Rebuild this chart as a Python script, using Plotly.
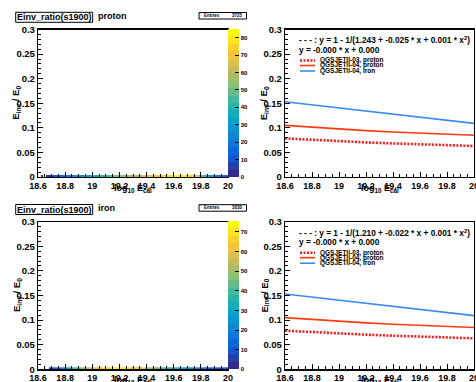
import plotly.graph_objects as go

W, H = 476, 382
def px(x): return x / W
def py(y): return 1 - y / H

FONT = "Liberation Sans"

# ---------------- data ----------------
bin_lo, bin_hi, n_bins = 18.6, 20.0, 70
ratio_bin_edges = [0.0, 0.004]

proton_counts = [0, 1, 0, 2, 1, 6, 9, 12, 14, 16,
                 19, 21, 20, 24, 25, 27, 26, 30, 32, 33,
                 36, 35, 39, 41, 42, 44, 46, 45, 48, 50,
                 51, 53, 54, 57, 58, 60, 59, 63, 64, 65,
                 66, 68, 69, 71, 72, 74, 75, 77, 78, 80,
                 81, 83, 82, 80, 79, 77, 74, 70, 66, 58,
                 50, 42, 36, 30, 25, 21, 18, 15, 13, 11]
iron_counts = [0, 0, 0, 0, 3, 8, 12, 15, 18, 22,
               26, 30, 34, 38, 41, 44, 47, 50, 53, 56,
               59, 62, 64, 66, 68, 70, 71, 72, 71, 72,
               70, 71, 69, 68, 66, 64, 62, 59, 57, 54,
               52, 50, 47, 45, 43, 41, 39, 37, 35, 33,
               31, 30, 28, 27, 25, 24, 22, 21, 19, 18,
               17, 16, 15, 14, 13, 12, 11, 10, 9, 8]
entries_proton = 3725
entries_iron = 3030
zmax_proton = 85
zmax_iron = 75.4

x_model = [18.6, 18.8, 19.0, 19.2, 19.4, 19.6, 19.8, 20.0]
qgs03_proton = [0.0785, 0.0755, 0.0728, 0.0704, 0.0683, 0.0664, 0.0646, 0.0630]
qgs04_proton = [0.1050, 0.1010, 0.0975, 0.0943, 0.0915, 0.0891, 0.0870, 0.0850]
qgs04_iron = [0.1530, 0.1467, 0.1404, 0.1341, 0.1279, 0.1216, 0.1153, 0.1090]

x_tickvals = [18.6, 18.8, 19.0, 19.2, 19.4, 19.6, 19.8, 20.0]
x_ticktext = ["18.6", "18.8", "19", "19.2", "19.4", "19.6", "19.8", "20"]
y_tickvals = [0, 0.05, 0.1, 0.15, 0.2, 0.25, 0.3]
y_ticktext = ["0", "0.05", "0.1", "0.15", "0.2", "0.25", "0.3"]

fit_proton = "- - - : y = 1 - 1/(1.243 + -0.025 * x + 0.001 * x<sup>2</sup>)"
fit_iron = "- - - : y = 1 - 1/(1.210 + -0.022 * x + 0.001 * x<sup>2</sup>)"
lin_text = "y = -0.000 * x + 0.000"
legend_names = ["QGSJETII-03, proton", "QGSJETII-04, proton", "QGSJETII-04, iron"]

# ---------------- colours ----------------
bird_r = [0.2082, 0.0592, 0.0780, 0.0232, 0.1802, 0.5301, 0.8186, 0.9956, 0.9764]
bird_g = [0.1664, 0.3599, 0.5041, 0.6419, 0.7178, 0.7492, 0.7328, 0.7862, 0.9832]
bird_b = [0.5293, 0.8684, 0.8385, 0.7914, 0.6425, 0.4662, 0.3499, 0.1968, 0.0539]

def bird(t):
    n = len(bird_r) - 1
    f = t * n
    i = min(int(f), n - 1)
    u = f - i
    c = [(1 - u) * a[i] + u * a[i + 1] for a in (bird_r, bird_g, bird_b)]
    return "rgb(%d,%d,%d)" % tuple(round(v * 255) for v in c)

NBAND = 20
colorscale = []
for k in range(NBAND):
    c = bird(k / (NBAND - 1))
    colorscale.append([k / NBAND, c])
    colorscale.append([(k + 1) / NBAND, c])

COL_IRON = "#3b8cf2"
COL_P04 = "#ff3a10"
COL_P03 = "#ff1a1a"
DOT = "2px,1.5px"

# ---------------- geometry ----------------
PL = (38, 228)
PR = (285, 474)
PT = (29.5, 177)
PB = (221.7, 369.3)

bin_w = (bin_hi - bin_lo) / n_bins
x_edges = [bin_lo + i * bin_w for i in range(n_bins + 1)]

def zrow(counts):
    return [[(c if c > 0 else None) for c in counts]]

fig = go.Figure()

fig.add_trace(go.Heatmap(x=x_edges, y=ratio_bin_edges, z=zrow(proton_counts),
                         coloraxis="coloraxis", xaxis="x", yaxis="y",
                         hoverinfo="skip"))
fig.add_trace(go.Heatmap(x=x_edges, y=ratio_bin_edges, z=zrow(iron_counts),
                         coloraxis="coloraxis2", xaxis="x3", yaxis="y3",
                         hoverinfo="skip"))

for xa, ya in (("x2", "y2"), ("x4", "y4")):
    fig.add_trace(go.Scatter(x=x_model, y=qgs03_proton, mode="lines", xaxis=xa, yaxis=ya,
                             line=dict(color=COL_P03, width=2.6, dash=DOT), showlegend=False))
    fig.add_trace(go.Scatter(x=x_model, y=qgs04_proton, mode="lines", xaxis=xa, yaxis=ya,
                             line=dict(color=COL_P04, width=1.6), showlegend=False))
    fig.add_trace(go.Scatter(x=x_model, y=qgs04_iron, mode="lines", xaxis=xa, yaxis=ya,
                             line=dict(color=COL_IRON, width=1.6), showlegend=False))

def xax(dom, anchor):
    return dict(domain=[px(dom[0]), px(dom[1])], range=[bin_lo, bin_hi], anchor=anchor,
                tickvals=x_tickvals, ticktext=x_ticktext, automargin=False,
                ticklabeloverflow="allow",
                showline=True, linecolor="black", linewidth=1.2, mirror=True,
                ticks="inside", ticklen=5, tickcolor="black", tickwidth=1,
                minor=dict(dtick=0.05, tick0=18.6, ticks="inside", ticklen=3, tickcolor="black"),
                showgrid=False, zeroline=False, fixedrange=True,
                tickfont=dict(family=FONT, size=9, color="black", weight="bold"))

def yax(dom, anchor):
    return dict(domain=[py(dom[1]), py(dom[0])], range=[0, 0.3], anchor=anchor,
                tickvals=y_tickvals, ticktext=y_ticktext, automargin=False,
                ticklabeloverflow="allow",
                showline=True, linecolor="black", linewidth=1.2, mirror=True,
                ticks="inside", ticklen=5, tickcolor="black", tickwidth=1,
                minor=dict(dtick=0.01, tick0=0, ticks="inside", ticklen=3, tickcolor="black"),
                showgrid=False, zeroline=False, fixedrange=True,
                tickfont=dict(family=FONT, size=9.5, color="black", weight="bold"))

def cax(dom, zmax, dt):
    return dict(cmin=0, cmax=zmax, colorscale=colorscale,
                colorbar=dict(x=px(228), xanchor="left", y=py(dom[1]), yanchor="bottom",
                              len=(dom[1] - dom[0]) / H, lenmode="fraction",
                              thickness=11, thicknessmode="pixels", xpad=0, ypad=0,
                              outlinewidth=0, ticks="inside", ticklen=4, tickcolor="black",
                              dtick=dt, tick0=0,
                              tickfont=dict(family=FONT, size=6, color="black", weight="bold")))

fig.update_layout(
    width=W, height=H, margin=dict(l=0, r=0, t=0, b=0, pad=0, autoexpand=False),
    paper_bgcolor="white", plot_bgcolor="white", showlegend=False,
    xaxis=xax(PL, "y"), yaxis=yax(PT, "x"),
    xaxis2=xax(PR, "y2"), yaxis2=yax(PT, "x2"),
    xaxis3=xax(PL, "y3"), yaxis3=yax(PB, "x3"),
    xaxis4=xax(PR, "y4"), yaxis4=yax(PB, "x4"),
    coloraxis=cax(PT, zmax_proton, 10),
    coloraxis2=cax(PB, zmax_iron, 10),
)

ann = []
shapes = []

def text(x, y, s, size, xanchor="left", angle=0, **kw):
    ann.append(dict(x=px(x), y=py(y), xref="paper", yref="paper", text=s, showarrow=False,
                    xanchor=xanchor, yanchor="middle", textangle=angle,
                    font=dict(family=FONT, size=size, color="black", weight="bold"), **kw))

ytitle = "E<sub>inv</sub> / E<sub>0</sub>"
xtitle = "log<sub>10</sub> E<sub>cal</sub>"

for (top, bot), name, entries in ((PT, "proton", entries_proton), (PB, "iron", entries_iron)):
    # title box
    shapes.append(dict(type="rect", xref="paper", yref="paper",
                       x0=px(15.7), x1=px(92.7), y0=py(top - 17.2), y1=py(top - 7.2),
                       line=dict(color="black", width=1), fillcolor="white", layer="below"))
    text(54.2, top - 12.2, "Einv_ratio(s1900)", 9, xanchor="center")
    text(95.5, top - 14, name, 9)
    # stats box
    shapes.append(dict(type="rect", xref="paper", yref="paper",
                       x0=px(199), x1=px(246.5), y0=py(top - 10.5), y1=py(top - 17),
                       line=dict(color="black", width=1), fillcolor="white", layer="below"))
    text(202, top - 13.8, "Entries", 4.5)
    text(245, top - 13.8, str(entries), 4.5, xanchor="right")
    # axis titles
    yc = (top + bot) / 2
    text(16.5, yc, ytitle, 9.5, xanchor="center", angle=-90)
    text(264, yc, ytitle, 9.5, xanchor="center", angle=-90)
    text(133, bot + 11, xtitle, 9, xanchor="center")
    text(380, bot + 11, xtitle, 9, xanchor="center")

for top, fit in ((PT[0], fit_proton), (PB[0], fit_iron)):
    text(296.5, top + 10.8, fit, 8.3)
    text(296.5, top + 20, lin_text, 8.3)
    ys = [top + 31, top + 36, top + 41.5]
    for yy, nm in zip(ys, legend_names):
        text(317.5, yy, nm, 6.5)
    shapes.append(dict(type="line", xref="paper", yref="paper", x0=px(300), x1=px(315),
                       y0=py(ys[0]), y1=py(ys[0]), line=dict(color=COL_P03, width=2.6, dash=DOT)))
    shapes.append(dict(type="line", xref="paper", yref="paper", x0=px(300), x1=px(315),
                       y0=py(ys[1]), y1=py(ys[1]), line=dict(color=COL_P04, width=1.6)))
    shapes.append(dict(type="line", xref="paper", yref="paper", x0=px(300), x1=px(315),
                       y0=py(ys[2]), y1=py(ys[2]), line=dict(color=COL_IRON, width=1.6)))

fig.update_layout(annotations=ann, shapes=shapes)
fig.write_html("out.html", config={"displayModeBar": False, "staticPlot": True},
               post_script="document.body.style.margin='0';document.body.style.padding='0';"
                           "document.body.style.overflow='hidden';")
